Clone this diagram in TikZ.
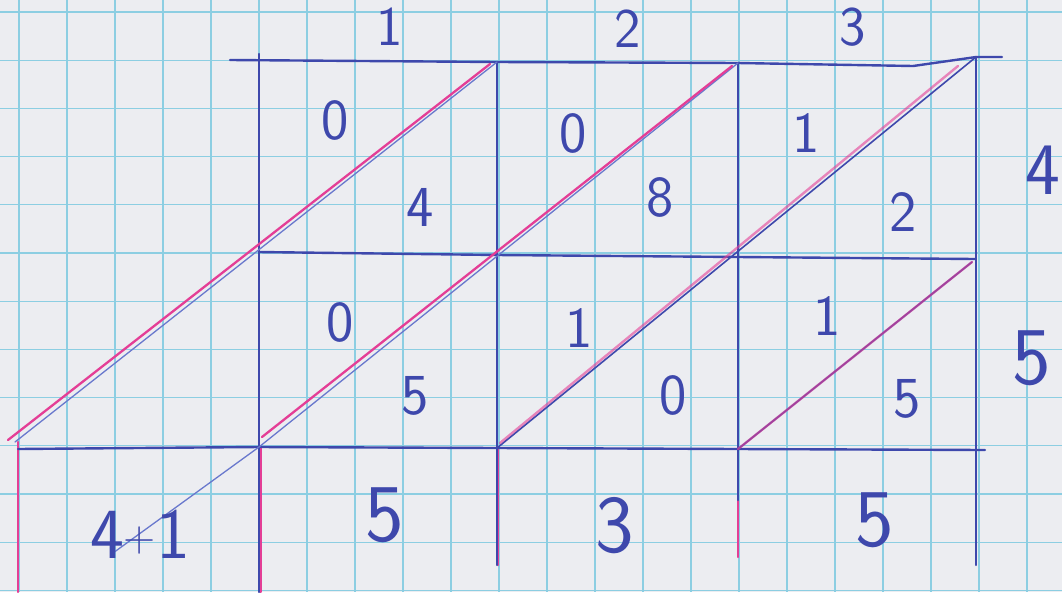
\documentclass[tikz,border=0pt]{standalone}
\usepackage{fontspec}
\definecolor{paper}{RGB}{236,237,241}
\definecolor{gridc}{RGB}{140,206,226}
\definecolor{inkblue}{RGB}{62,72,172}
\definecolor{pinkc}{RGB}{228,62,150}
\definecolor{thinblue}{RGB}{105,120,205}
\tikzset{
  gridline/.style={draw=gridc, line width=1.2pt},
  ink/.style={draw=inkblue, line width=2.4pt, line cap=round},
  pinkl/.style={draw=pinkc, line width=2.3pt, line cap=round},
  mixl/.style={draw=pinkc, draw opacity=0.6, line width=2.4pt, line cap=round},
  thinl/.style={draw=thinblue, line width=1.3pt, line cap=round},
  digit/.style={text=inkblue, inner sep=0pt, font=\sffamily\fontsize{58}{58}\selectfont},
  bigdigit/.style={text=inkblue, inner sep=0pt, font=\sffamily\fontsize{82}{82}\selectfont},
  sidedigit/.style={text=inkblue, inner sep=0pt, font=\sffamily\fontsize{74}{74}\selectfont},
  headdigit/.style={text=inkblue, inner sep=0pt, font=\sffamily\fontsize{56}{56}\selectfont},
}
\begin{document}
\begin{tikzpicture}[x=1pt,y=-1pt]
\fill[paper] (0,0) rectangle (1062,592);
\useasboundingbox (0,0) rectangle (1062,592);
% graph paper
\foreach \i in {0,...,21} \draw[gridline] ({19+48*\i},0) -- ({19+48*\i},592);
\foreach \j in {0,...,12} \draw[gridline] (0,{12+48.2*\j}) -- (1062,{12+48.2*\j});

% coordinates of the lattice
\coordinate (tls) at (230,60);
\coordinate (v0s) at (259,54);
\coordinate (a1) at (497,62);
\coordinate (a2) at (738,63);
\coordinate (tk) at (913,66);
\coordinate (a3) at (976,57);
\coordinate (tre) at (1002,57);
\coordinate (m0) at (259,252);
\coordinate (m1) at (497,255);
\coordinate (m2) at (738,257);
\coordinate (m3) at (975,259);
\coordinate (b0) at (259,447);
\coordinate (b1) at (497,448);
\coordinate (b2) at (738,449);
\coordinate (b3) at (976,450);
\coordinate (bl) at (18,449);
\coordinate (br) at (985,450);
\coordinate (v0e) at (259,592);
\coordinate (v1e) at (497,565);
\coordinate (v2e) at (738,557);
\coordinate (v3e) at (976,565);
\coordinate (p0s) at (18,442);
\coordinate (p0e) at (18,592);
\coordinate (d1e) at (15,442);
\coordinate (x4) at (113,553);
% pink line ends
\coordinate (q1s) at (490,64);
\coordinate (q1e) at (8,440);
\coordinate (q2s) at (732,66);
\coordinate (q2e) at (262,437);
\coordinate (q3s) at (958,66);
\coordinate (q3e) at (500,443);
\coordinate (q4s) at (972,262);

% pink verticals under the lattice
\draw[pinkl] (p0s) -- (p0e);
\draw[pinkl] ([xshift=1.5pt]b0) -- ([xshift=1.5pt]v0e);
\draw[pinkl] ([xshift=1pt]b1) -- ([xshift=1pt]v1e);
\draw[pinkl] (b2) -- (v2e);

% blue frame
\draw[ink] (tls) -- (a1) -- (a2) -- (tk) -- (a3) -- (tre);
\draw[ink] (v0s) -- (v0e);
\draw[ink] (a1) -- (v1e);
\draw[ink] (a2) -- (738,500);
\draw[ink] (a3) -- (v3e);
\draw[ink] (m0) -- (m1) -- (m2) -- (m3);
\draw[ink] (bl) -- (b0) -- (b1) -- (b2) -- (br);

% diagonals
\draw[thinl] (a1) -- (d1e);
\draw[pinkl] (q1s) -- (q1e);
\draw[thinl] (a2) -- (b0);
\draw[pinkl] (q2s) -- (q2e);
\draw[thinl] (b0) -- (x4);
\draw[ink, line width=1.6pt] (a3) -- (b1);
\draw[mixl] (q3s) -- (q3e);
\draw[ink, line width=1.8pt] (q4s) -- (b2);
\draw[mixl] (q4s) -- (b2);

% multiplier digits
\node[headdigit] (h1) at (390,27) {1};
\node[headdigit] (h2) at (628,29) {2};
\node[headdigit] (h3) at (853,27) {3};
\node[sidedigit] (r4) at (1043,170) {4};
\node[bigdigit] (r5) at (1032,358) {5};

% partial products
\node[digit] (c11t) at (335,120) {0};
\node[digit] (c11b) at (420,207) {4};
\node[digit] (c12t) at (573,133) {0};
\node[digit] (c12b) at (660,197) {8};
\node[digit] (c13t) at (806,133) {1};
\node[digit] (c13b) at (903,212) {2};
\node[digit] (c21t) at (340,322) {0};
\node[digit] (c21b) at (415,396) {5};
\node[digit] (c22t) at (579,328) {1};
\node[digit] (c22b) at (673,395) {0};
\node[digit] (c23t) at (827,316) {1};
\node[digit] (c23b) at (907,399) {5};

% result digits
\node[text=inkblue, inner sep=0pt, font=\sffamily\fontsize{72}{72}\selectfont] (s0) at (140,534) {4\raisebox{7pt}{\fontsize{44}{44}\selectfont+}1};
\node[bigdigit] (s1) at (385,515) {5};
\node[bigdigit] (s2) at (615,526) {3};
\node[bigdigit] (s3) at (875,520) {5};
\end{tikzpicture}
\end{document}
